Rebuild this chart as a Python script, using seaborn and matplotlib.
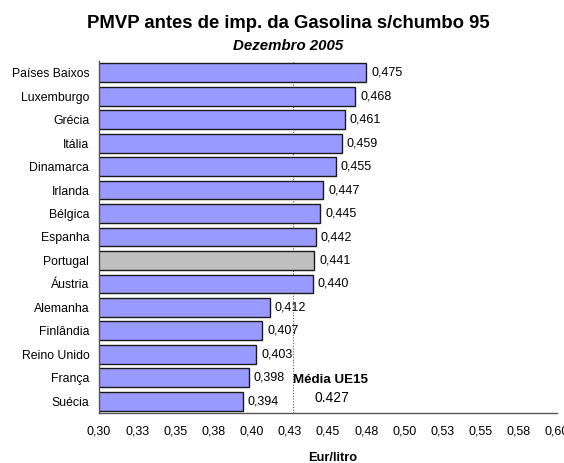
import matplotlib
matplotlib.use("Agg")
import matplotlib.pyplot as plt
import seaborn as sns
import pandas as pd
import numpy as np

countries = ["Países Baixos", "Luxemburgo", "Grécia", "Itália", "Dinamarca", "Irlanda",
             "Bélgica", "Espanha", "Portugal", "Áustria", "Alemanha", "Finlândia",
             "Reino Unido", "França", "Suécia"]
values = [0.475, 0.468, 0.461, 0.459, 0.455, 0.447, 0.445, 0.442, 0.441, 0.440,
          0.412, 0.407, 0.403, 0.398, 0.394]
average = 0.427
xticks = [0.300, 0.325, 0.350, 0.375, 0.400, 0.425, 0.450, 0.475, 0.500, 0.525, 0.550, 0.575, 0.600]
xticklabels = ["0,30", "0,33", "0,35", "0,38", "0,40", "0,43", "0,45", "0,48", "0,50",
               "0,53", "0,55", "0,58", "0,60"]

sns.set_style("white")
plt.rcParams['font.family'] = ['Liberation Sans', 'DejaVu Sans']
plt.rcParams['text.color'] = 'black'
plt.rcParams['xtick.color'] = 'black'
plt.rcParams['ytick.color'] = 'black'

df = pd.DataFrame({"country": countries, "value": values})
palette = {c: ("#C0C0C0" if c == "Portugal" else "#9999FF") for c in countries}

fig = plt.figure(figsize=(5.64, 4.63), dpi=100)
ax = fig.add_axes([99/564, 1 - 413/463, (557 - 99)/564, (413 - 61)/463])

sns.barplot(data=df, x="value", y="country", hue="country", palette=palette,
            order=countries, legend=False, orient="h", width=0.8,
            edgecolor="#1a1a1a", linewidth=1.0, saturation=1, ax=ax)

ax.set_xlim(0.30, 0.60)
ax.set_ylim(len(countries) - 0.5, -0.5)
ax.set_xticks(xticks)
ax.set_xticklabels(xticklabels, fontsize=9, color="black")
ax.set_yticks(range(len(countries)))
ax.set_yticklabels(countries, fontsize=8.8, color="black")
ax.set_yticks(np.arange(-0.5, len(countries), 1), minor=True)
ax.tick_params(axis="y", which="major", length=0, pad=7)
ax.tick_params(axis="y", which="minor", length=5, width=0.8, color="#333333")
ax.tick_params(axis="x", which="major", length=5, width=0.8, color="#333333", pad=4)
ax.set_xlabel("")
ax.set_ylabel("")

for s in ["top", "right"]:
    ax.spines[s].set_visible(False)
for s in ["left", "bottom"]:
    ax.spines[s].set_color("#555555")
    ax.spines[s].set_linewidth(1.0)

ax.axvline(average, color="#555555", linestyle=(0, (1, 1.5)), linewidth=0.8, zorder=0.5)

for i, v in enumerate(values):
    ax.annotate(f"{v:.3f}".replace(".", ","), xy=(v, i), xytext=(3.5, 0),
                textcoords="offset points", va="center", ha="left", fontsize=9,
                color="black")

ax.text(average + 0.0003, 13.1, "Média UE15", fontsize=9.6, fontweight="bold",
        ha="left", va="center", color="black")
ax.text(0.4523, 13.85, f"{average:.3f}", fontsize=10, ha="center", va="center",
        color="black")

fig.text(288/564, 1 - 24/463, "PMVP antes de imp. da Gasolina s/chumbo 95",
         ha="center", va="center", fontsize=13.3, fontweight="bold", color="black")
fig.text(288/564, 1 - 46/463, "Dezembro 2005", ha="center", va="center",
         fontsize=10.8, fontweight="bold", fontstyle="italic", color="black")
fig.text(333/564, 1 - 458/463, "Eur/litro", ha="center", va="center",
         fontsize=9.3, fontweight="bold", color="black")

fig.savefig("out.png", dpi=100)
